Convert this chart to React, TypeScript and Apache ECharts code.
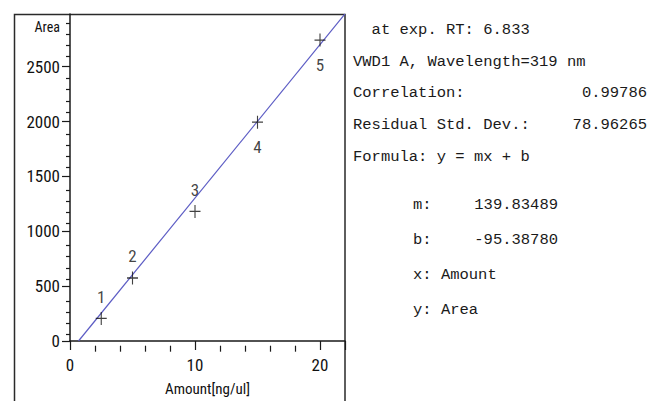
import React, { useEffect, useRef } from 'react';
import * as echarts from 'echarts';

// ---- data ----
const amounts = [2.5, 5, 10, 15, 20];
const areas = [206, 574, 1181, 1994, 2742];
const pointLabels = ['1', '2', '3', '4', '5'];
const slope = 139.83489;
const intercept = -95.3878;
const xMax = 22;
const yMax = 2980;
const xTickLabels = [0, 10, 20];
const xMajorTicks = [0, 10, 20, 22];
const xMinorTicks = [2, 4, 6, 8, 12, 14, 16, 18];
const yTickLabels = [0, 500, 1000, 1500, 2000, 2500];
const yMinorTicks = [100, 200, 300, 400, 600, 700, 800, 900, 1100, 1200, 1300, 1400, 1600, 1700, 1800, 1900, 2100, 2200, 2300, 2400, 2600, 2700, 2800, 2900];
const xAxisName = 'Amount[ng/ul]';
const yAxisName = 'Area';

const infoLeft = ['  at exp. RT: 6.833', 'VWD1 A, Wavelength=319 nm', 'Correlation:', 'Residual Std. Dev.:', 'Formula: y = mx + b'];
const infoRightValues = ['', '', '0.99786', '78.96265', ''];
const coefLabels = ['m:', 'b:', 'x: Amount', 'y: Area'];
const coefValues = ['139.83489', '-95.38780', '', ''];

const NARROW = "'Liberation Sans Narrow', 'Arial Narrow', 'Roboto Condensed', sans-serif";
const MONO = "'Liberation Mono', 'Courier New', monospace";

export default function App() {
  const ref = useRef<HTMLDivElement>(null);
  useEffect(() => {
    if (!ref.current) return;
    const chart = echarts.init(ref.current, undefined, { renderer: 'svg' });
    const gridPos = { left: 70, top: 14, width: 275, height: 331.7 };
    const x0 = -intercept / slope;
    const lineData = [[x0, 0], [xMax, slope * xMax + intercept]];
    const scatterData = amounts.map((a, i) => ({
      value: [a, areas[i]],
      label: {
        show: true,
        formatter: pointLabels[i],
        position: i < 3 ? 'top' : 'bottom',
        distance: i < 3 ? 4 : 7,
      },
    }));

    const infoY1 = [30, 62, 93, 125, 157];
    const infoY2 = [205, 240, 275, 310];
    const textStyle = { fontFamily: MONO, fontSize: 15.5, fill: '#1a1a1a' };
    const graphics: any[] = [
      {
        type: 'rect',
        shape: { x: 14.5, y: 14.5, width: 330.5, height: 420 },
        style: { fill: 'none', stroke: '#2a2a2a', lineWidth: 1.5 },
        silent: true,
      },
    ];
    infoLeft.forEach((t, i) => {
      graphics.push({ type: 'text', x: 353, y: infoY1[i], style: { ...textStyle, text: t, textAlign: 'left', textVerticalAlign: 'middle' } });
      if (infoRightValues[i]) {
        graphics.push({ type: 'text', x: 647, y: infoY1[i], style: { ...textStyle, text: infoRightValues[i], textAlign: 'right', textVerticalAlign: 'middle' } });
      }
    });
    coefLabels.forEach((t, i) => {
      graphics.push({ type: 'text', x: 413, y: infoY2[i], style: { ...textStyle, text: t, textAlign: 'left', textVerticalAlign: 'middle' } });
      if (coefValues[i]) {
        graphics.push({ type: 'text', x: 558, y: infoY2[i], style: { ...textStyle, text: coefValues[i], textAlign: 'right', textVerticalAlign: 'middle' } });
      }
    });

    const axisLineStyle = { color: '#1a1a1a', width: 1.5 };
    const plain = (v: number) => String(v);
    chart.setOption({
      animation: false,
      backgroundColor: '#ffffff',
      grid: [
        { ...gridPos },
        { ...gridPos },
      ],
      xAxis: [
        {
          type: 'value', gridIndex: 0, min: 0, max: xMax, position: 'bottom',
          axisLine: { show: true, onZero: false, lineStyle: axisLineStyle },
          axisTick: { show: true, length: 9, customValues: xMajorTicks, lineStyle: { color: '#1a1a1a', width: 1.2 } },
          axisLabel: { show: true, customValues: xTickLabels, formatter: plain, margin: 15, fontFamily: NARROW, fontSize: 17, color: '#111' },
          splitLine: { show: false },
          name: xAxisName, nameLocation: 'middle', nameGap: 40,
          nameTextStyle: { fontFamily: NARROW, fontSize: 15, color: '#111' },
        },
        {
          type: 'value', gridIndex: 1, min: 0, max: xMax, position: 'bottom',
          axisLine: { show: false, onZero: false },
          axisTick: { show: true, length: 6, customValues: xMinorTicks, lineStyle: { color: '#1a1a1a', width: 1.2 } },
          axisLabel: { show: false },
          splitLine: { show: false },
        },
      ],
      yAxis: [
        {
          type: 'value', gridIndex: 0, min: 0, max: yMax, position: 'left',
          axisLine: { show: true, onZero: false, lineStyle: axisLineStyle },
          axisTick: { show: true, length: 8, customValues: yTickLabels, lineStyle: { color: '#1a1a1a', width: 1.2 } },
          axisLabel: { show: true, customValues: yTickLabels, formatter: plain, margin: 10, fontFamily: NARROW, fontSize: 17, color: '#111' },
          splitLine: { show: false },
          name: yAxisName, nameLocation: 'end', nameGap: -13,
          nameTextStyle: { fontFamily: NARROW, fontSize: 14, color: '#111', align: 'right', verticalAlign: 'middle', padding: [0, 10, 0, 0] },
        },
        {
          type: 'value', gridIndex: 1, min: 0, max: yMax, position: 'left',
          axisLine: { show: false, onZero: false },
          axisTick: { show: true, length: 4, customValues: yMinorTicks, lineStyle: { color: '#1a1a1a', width: 1.2 } },
          axisLabel: { show: false },
          splitLine: { show: false },
        },
      ],
      series: [
        {
          type: 'line', xAxisIndex: 0, yAxisIndex: 0, data: lineData,
          symbol: 'none', lineStyle: { color: '#5c5cc4', width: 1.2 }, silent: true, z: 1,
        },
        {
          type: 'scatter', xAxisIndex: 0, yAxisIndex: 0, data: scatterData,
          symbol: 'path://M0,6 L10,6 M5,0 L5,12',
          symbolSize: [11, 13],
          itemStyle: { color: 'none', borderColor: '#111', borderWidth: 1.2 },
          label: { fontFamily: NARROW, fontSize: 17, color: '#111' },
          z: 3,
        },
      ],
      graphic: graphics,
    });
    return () => chart.dispose();
  }, []);
  return <div ref={ref} style={{ position: 'fixed', left: 0, top: 0, width: 649, height: 401 }} />;
}
